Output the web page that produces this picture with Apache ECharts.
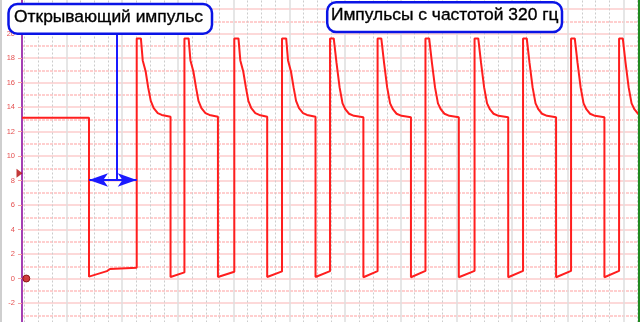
<!DOCTYPE html>
<html>
<head>
<meta charset="utf-8">
<script src="https://cdn.jsdelivr.net/npm/echarts@6.0.0/dist/echarts.min.js"></script>
<style>
html,body{margin:0;padding:0;background:#fff;}
#chart{width:640px;height:322px;}
</style>
</head>
<body>
<div id="chart"></div>
<script>
// ---- data (time in ms, voltage in V) ----
const yTickValues = [-2, 0, 2, 4, 6, 8, 10, 12, 14, 16, 18, 20];
const signalTime = [
  0, 4.34, 4.34, 5.50, 5.70,
  7.43, 7.43, 7.70, 7.82, 8.01, 8.17, 8.34, 8.53, 8.79, 9.05, 9.62, 9.62,
  10.52, 10.52, 10.79, 10.91, 11.10, 11.27, 11.43, 11.62, 11.88, 12.14, 12.69, 12.69,
  13.75, 13.75, 14.02, 14.14, 14.33, 14.50, 14.66, 14.85, 15.11, 15.37, 15.88, 15.88,
  16.84, 16.84, 17.11, 17.23, 17.42, 17.59, 17.75, 17.94, 18.20, 18.46, 19.01, 19.01,
  19.95, 19.95, 20.19, 20.37, 20.57, 20.76, 20.95, 21.18, 21.50, 22.11, 22.11,
  23.03, 23.03, 23.27, 23.45, 23.65, 23.84, 24.03, 24.26, 24.58, 25.19, 25.19,
  26.13, 26.13, 26.37, 26.55, 26.75, 26.94, 27.13, 27.36, 27.68, 28.29, 28.29,
  29.31, 29.31, 29.55, 29.73, 29.93, 30.12, 30.31, 30.54, 30.86, 31.49, 31.49,
  32.45, 32.45, 32.69, 32.87, 33.07, 33.26, 33.45, 33.68, 34.00, 34.59, 34.59,
  35.56, 35.56, 35.80, 35.98, 36.18, 36.37, 36.56, 36.79, 37.11, 37.72, 37.72,
  38.67, 38.67, 38.91, 39.09, 39.29, 39.48, 39.67, 39.90, 40.22
];
const signalVolt = [
  13.13, 13.13, 0.15, 0.60, 0.78,
  0.88, 19.6, 19.6, 17.8, 16.9, 15.6, 14.5, 13.9, 13.5, 13.35, 13.2, 0.12,
  0.50, 19.6, 19.6, 17.8, 16.9, 15.6, 14.5, 13.9, 13.5, 13.35, 13.2, 0.12,
  0.55, 19.6, 19.6, 17.8, 16.9, 15.6, 14.5, 13.9, 13.5, 13.35, 13.2, 0.12,
  0.58, 19.6, 19.6, 17.8, 16.9, 15.6, 14.5, 13.9, 13.5, 13.35, 13.2, 0.12,
  0.60, 19.6, 19.6, 17.6, 15.6, 14.3, 13.8, 13.45, 13.28, 13.17, 0.10,
  0.60, 19.6, 19.6, 17.6, 15.6, 14.3, 13.8, 13.45, 13.28, 13.17, 0.10,
  0.62, 19.6, 19.6, 17.6, 15.6, 14.3, 13.8, 13.45, 13.28, 13.17, 0.10,
  0.62, 19.6, 19.6, 17.6, 15.6, 14.3, 13.8, 13.45, 13.28, 13.17, 0.10,
  0.62, 19.6, 19.6, 17.6, 15.6, 14.3, 13.8, 13.45, 13.28, 13.17, 0.10,
  0.62, 19.6, 19.6, 17.6, 15.6, 14.3, 13.8, 13.45, 13.28, 13.17, 0.10,
  0.62, 19.6, 19.6, 17.6, 15.6, 14.3, 13.8, 13.45, 13.28
];
// opening-pulse span (ms) and the arrow level (V)
const openPulseStart = 4.34;
const openPulseEnd = 7.43;
const arrowLevel = 8.04;
const pointerTime = 6.15;
const pointerTop = 19.9;
// markers
const triggerMarker = [[-0.16, 8.6]];
const groundMarker = [[0.28, 0]];
const label1 = 'Открывающий импульс';
const label2 = 'Импульсы с частотой 320 гц';

const signal = signalTime.map((t, i) => [t, signalVolt[i]]);

const chart = echarts.init(document.getElementById('chart'), null, {renderer: 'canvas'});
const gridCommon = {top: -15.5, bottom: -5.5, containLabel: false, outerBoundsMode: 'none', show: false};
const textStyle = {fontSize: 17.4, fontFamily: 'Liberation Sans', fill: '#000000',
  stroke: '#000000', lineWidth: 0.35, align: 'center', verticalAlign: 'middle'};
const option = {
  animation: false,
  backgroundColor: '#ffffff',
  grid: [
    Object.assign({left: 10.8, right: -39.3}, gridCommon),
    Object.assign({left: 22, right: 2}, gridCommon)
  ],
  xAxis: [
    { // division grid (vertical lines)
      gridIndex: 0, type: 'value', min: 0, max: 12, interval: 1,
      axisLine: {show: false}, axisTick: {show: false}, axisLabel: {show: false},
      splitLine: {show: true, showMinLine: false, showMaxLine: false, lineStyle: {color: '#dedede', width: 1.5}},
      minorTick: {show: false, splitNumber: 4},
      minorSplitLine: {show: true, lineStyle: {color: '#cccccc', width: 1, type: [2, 2]}}
    },
    { gridIndex: 1, type: 'value', min: 0, max: 1, show: false },
    { // data time axis (ms)
      gridIndex: 0, type: 'value', min: -0.725, max: 42.57, show: false,
      splitLine: {show: false}
    }
  ],
  yAxis: [
    { gridIndex: 0, type: 'value', min: -4, max: 24, show: false, splitLine: {show: false} },
    {
      gridIndex: 1, type: 'value', min: -4, max: 24, interval: 2, position: 'left',
      axisLine: {show: true, onZero: false, lineStyle: {color: '#a43fb3', width: 2}},
      axisTick: {show: true, length: 4, lineStyle: {color: '#f3a0a0', width: 1}},
      axisLabel: {
        show: true, margin: 7, color: '#e45050', fontSize: 7.5, fontFamily: 'Liberation Sans',
        formatter: v => (yTickValues.indexOf(v) >= 0 ? String(v) : '')
      },
      splitLine: {show: true, lineStyle: {color: '#fccccc', width: 1.5}},
      minorTick: {show: false, splitNumber: 2},
      minorSplitLine: {show: true, lineStyle: {color: '#ffc0c0', width: 1.5, type: [3, 1]}}
    }
  ],
  series: [
    {
      type: 'line', xAxisIndex: 2, yAxisIndex: 0, data: signal,
      showSymbol: false, symbol: 'none', silent: true, z: 3,
      lineStyle: {color: '#ff1e1e', width: 2}
    },
    {
      type: 'line', xAxisIndex: 2, yAxisIndex: 0, data: [], silent: true, z: 4,
      markLine: {
        silent: true, animation: false,
        label: {show: false},
        lineStyle: {color: '#1a1aff', width: 2, type: 'solid'},
        data: [
          [{coord: [openPulseStart, arrowLevel], symbol: 'arrow', symbolSize: [10, 19]},
           {coord: [openPulseEnd, arrowLevel], symbol: 'arrow', symbolSize: [10, 19]}],
          [{coord: [pointerTime, pointerTop], symbol: 'none'},
           {coord: [pointerTime, arrowLevel], symbol: 'none'}]
        ]
      }
    },
    {
      type: 'scatter', xAxisIndex: 2, yAxisIndex: 0, data: triggerMarker, silent: true, z: 5,
      symbol: 'triangle', symbolSize: [9, 6], symbolRotate: -90, clip: false,
      itemStyle: {color: '#b40808'}
    },
    {
      type: 'scatter', xAxisIndex: 2, yAxisIndex: 0, data: groundMarker, silent: true, z: 5,
      symbol: 'circle', symbolSize: 7, clip: false,
      itemStyle: {color: '#c41010', borderColor: '#7a0000', borderWidth: 1}
    }
  ],
  graphic: [
    {type: 'rect', z: 100, shape: {x: 0, y: 0, width: 2, height: 322}, style: {fill: '#cfcfcf'}},
    {type: 'rect', z: 100, shape: {x: 638, y: 0, width: 2, height: 322}, style: {fill: '#1f8a1f'}},
    {type: 'rect', z: 100, shape: {x: 8.5, y: 4, width: 203.5, height: 29.7, r: 9},
     style: {fill: '#ffffff', stroke: '#0a14e6', lineWidth: 2.5}},
    {type: 'text', z: 101, x: 108.5, y: 17.5, style: Object.assign({text: label1}, textStyle)},
    {type: 'rect', z: 100, shape: {x: 327.2, y: 2.2, width: 234.8, height: 29.8, r: 9},
     style: {fill: '#ffffff', stroke: '#0a14e6', lineWidth: 2.5}},
    {type: 'text', z: 101, x: 444.7, y: 15.5, style: Object.assign({text: label2}, textStyle)}
  ]
};
chart.setOption(option);
</script>
</body>
</html>
